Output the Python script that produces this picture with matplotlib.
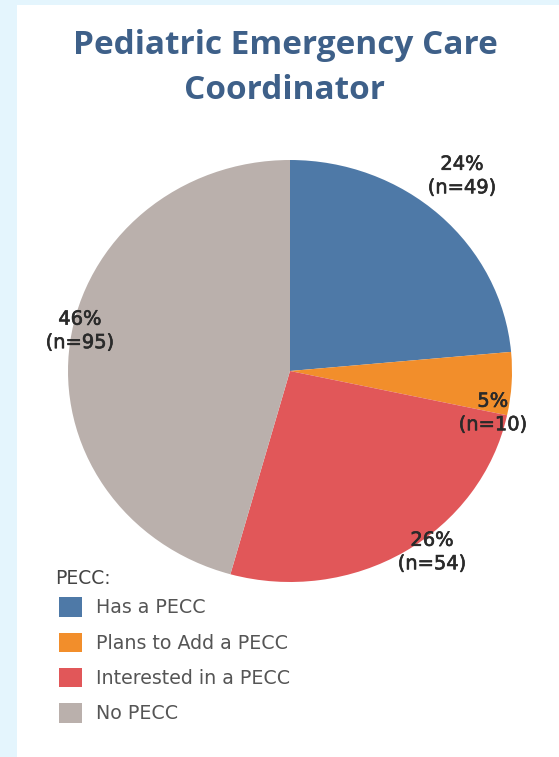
import matplotlib
matplotlib.use("Agg")
import matplotlib.pyplot as plt
import matplotlib.patheffects as pe
from matplotlib.patches import Patch, Rectangle

categories = ["Has a PECC", "Plans to Add a PECC", "Interested in a PECC", "No PECC"]
counts = [49, 10, 54, 95]
colors = ["#4e79a7", "#f28e2b", "#e15759", "#bab0ac"]
title = "Pediatric Emergency Care\nCoordinator"
legend_title = "PECC:"

label_pos = [(0.775, 0.924), (0.914, -0.199), (0.64, -0.858), (-0.946, 0.19)]

plt.rcParams['font.family'] = ['DejaVu Sans']

W, H = 559, 757
fig = plt.figure(figsize=(W / 100, H / 100), dpi=100)
fig.patch.set_facecolor("#e4f5fd")
fig.patches.append(Rectangle((17 / W, 0), 1 - 17 / W, (H - 5) / H, transform=fig.transFigure,
                             facecolor="white", edgecolor="none", zorder=-10))

fig.text(285 / W, 1 - 68 / H, title, ha="center", va="center", fontsize=24,
         fontweight="bold", color="#3e6089", linespacing=1.45,
         family=["Open Sans", "DejaVu Sans"])

ax = fig.add_axes([68 / W, (H - 582) / H, 444 / W, 422 / H])
ax.set_zorder(2)
total = sum(counts)
wedges, _ = ax.pie(counts, colors=colors, startangle=90, counterclock=False,
                   radius=1, wedgeprops=dict(linewidth=0))
ax.set_aspect("auto")
ax.set_xlim(-1, 1)
ax.set_ylim(-1, 1)
ax.axis("off")

for c, (x, y) in zip(counts, label_pos):
    ax.text(x, y, f"{round(c / total * 100)}%\n(n={c})", ha="center", va="center",
            fontsize=14, color="#2a2a2a", linespacing=1.3,
            path_effects=[pe.withStroke(linewidth=0.45, foreground="#2a2a2a")])

fig.text(55 / W, 1 - 578 / H, legend_title, ha="left", va="center", fontsize=13.5,
         color="#444444", zorder=3)

handles = [Patch(facecolor=col, edgecolor="none") for col in colors]
leg = fig.legend(handles, categories, loc="upper left", bbox_to_anchor=(42 / W, 1 - 580 / H),
                 frameon=False, fontsize=13.7, handlelength=1.2, handleheight=1.2,
                 handletextpad=0.75, labelspacing=0.8)
leg.set_zorder(3)
for t in leg.get_texts():
    t.set_color("#555555")

fig.savefig("out.png", dpi=100)
